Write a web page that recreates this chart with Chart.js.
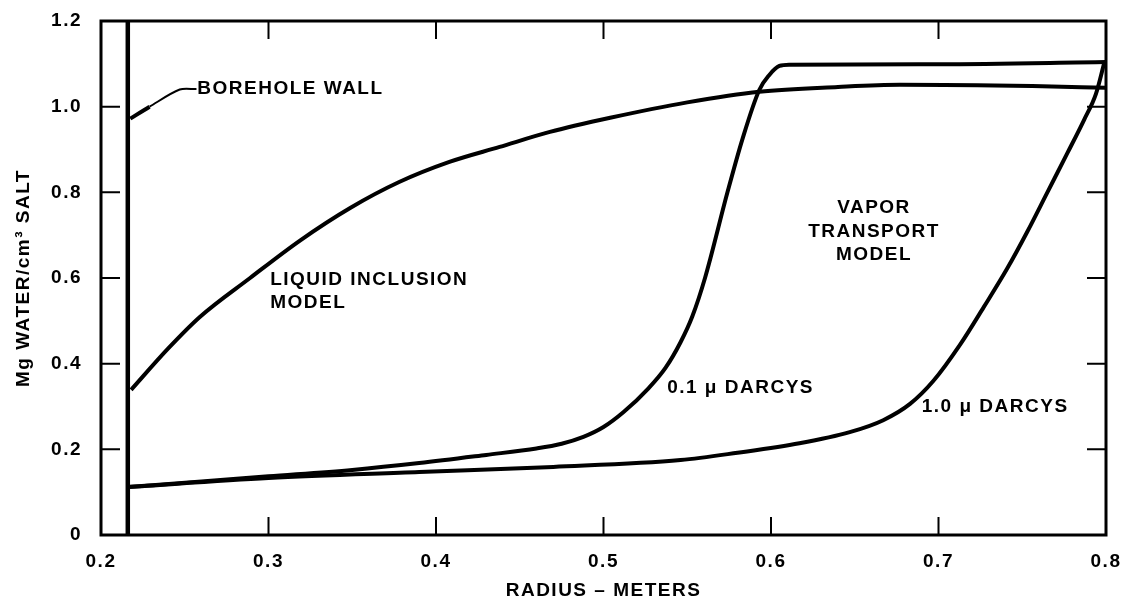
<!DOCTYPE html>
<html>
<head>
<meta charset="utf-8">
<script src="https://cdn.jsdelivr.net/npm/chart.js@4/dist/chart.umd.min.js"></script>
<style>
  html, body { margin: 0; padding: 0; background: #fff; }
  #wrap { width: 1125px; height: 602px; }
</style>
</head>
<body>
<div id="wrap"><canvas id="graphCanvas"></canvas></div>
<script>
    // values: [radius m, Mg water / cm3 salt]
    const liquidInclusion = [
        [0.218, 0.339], [0.24, 0.435], [0.259, 0.509], [0.289, 0.6],
        [0.319, 0.688], [0.349, 0.764], [0.378, 0.824], [0.408, 0.871],
        [0.438, 0.906], [0.468, 0.941], [0.504, 0.974], [0.55, 1.01],
        [0.593, 1.035], [0.64, 1.046], [0.677, 1.051], [0.756, 1.048], [0.8, 1.044]
    ];
    const darcy01 = [
        [0.216, 0.112], [0.26, 0.125], [0.3, 0.137], [0.35, 0.152],
        [0.39, 0.168], [0.43, 0.187], [0.46, 0.202], [0.475, 0.213],
        [0.488, 0.229], [0.5, 0.252], [0.512, 0.287], [0.527, 0.343],
        [0.537, 0.39], [0.546, 0.45], [0.553, 0.51], [0.5606, 0.6],
        [0.574, 0.8], [0.583, 0.925], [0.593, 1.039], [0.599, 1.074],
        [0.605, 1.095], [0.611, 1.098], [0.7, 1.099], [0.8, 1.104]
    ];
    const darcy10 = [
        [0.216, 0.112], [0.3, 0.133], [0.39, 0.147], [0.47, 0.159],
        [0.546, 0.175], [0.58, 0.192], [0.617, 0.214], [0.647, 0.24],
        [0.667, 0.268], [0.683, 0.306], [0.697, 0.36], [0.713, 0.445],
        [0.727, 0.532], [0.741, 0.622], [0.753, 0.708], [0.765, 0.8],
        [0.777, 0.892], [0.787, 0.97], [0.794, 1.03], [0.799, 1.103]
    ];
    const boreholeWall = [[0.216, 0], [0.216, 1.2]];
    const wallLeader = [[0.2175, 0.972], [0.229, 1.0], [0.247, 1.04], [0.257, 1.041]];

    const xTicks = [0.2, 0.3, 0.4, 0.5, 0.6, 0.7, 0.8];
    const xTickLabels = ['0.2', '0.3', '0.4', '0.5', '0.6', '0.7', '0.8'];
    const yTicks = [0, 0.2, 0.4, 0.6, 0.8, 1.0, 1.2];
    const yTickLabels = ['0', '0.2', '0.4', '0.6', '0.8', '1.0', '1.2'];

    const FONT = '"Liberation Sans", Arial, sans-serif';
    const SPACING = '1.5px';

    const toPts = arr => arr.map(p => ({x: p[0], y: p[1]}));

    // frame + inward ticks + curve labels
    const figurePlugin = {
        id: 'figure',
        beforeLayout(chart) { chart.ctx.letterSpacing = SPACING; },
        beforeDraw(chart) { chart.ctx.letterSpacing = SPACING; },
        afterDraw(chart) {
            const {ctx, chartArea: a, scales: {x, y}} = chart;
            ctx.save();
            ctx.strokeStyle = '#000';
            ctx.lineWidth = 3;
            ctx.strokeRect(a.left, a.top, a.right - a.left, a.bottom - a.top);

            ctx.lineWidth = 2;
            ctx.beginPath();
            xTicks.slice(1, -1).forEach(v => {
                const px = x.getPixelForValue(v);
                ctx.moveTo(px, a.bottom); ctx.lineTo(px, a.bottom - 18);
                ctx.moveTo(px, a.top); ctx.lineTo(px, a.top + 18);
            });
            yTicks.slice(1, -1).forEach(v => {
                const py = y.getPixelForValue(v);
                ctx.moveTo(a.left, py); ctx.lineTo(a.left + 19, py);
                ctx.moveTo(a.right, py); ctx.lineTo(a.right - 19, py);
            });
            ctx.stroke();

            ctx.fillStyle = '#000';
            ctx.font = 'bold 19px ' + FONT;
            ctx.letterSpacing = SPACING;
            ctx.textBaseline = 'middle';
            const text = (s, vx, vy, align) => {
                ctx.textAlign = align || 'left';
                ctx.fillText(s, x.getPixelForValue(vx), y.getPixelForValue(vy));
            };
            text('BOREHOLE WALL', 0.2575, 1.041);
            text('LIQUID INCLUSION', 0.301, 0.595);
            text('MODEL', 0.301, 0.542);
            text('VAPOR', 0.6615, 0.763, 'center');
            text('TRANSPORT', 0.6615, 0.707, 'center');
            text('MODEL', 0.6615, 0.654, 'center');
            text('0.1 \u03bc DARCYS', 0.538, 0.343);
            text('1.0 \u03bc DARCYS', 0.69, 0.299);
            ctx.restore();
        }
    };

    const line = (data, extra) => Object.assign({
        data: toPts(data),
        showLine: true,
        borderColor: '#000',
        borderWidth: 4,
        pointRadius: 0,
        cubicInterpolationMode: 'monotone',
        fill: false
    }, extra || {});

    new Chart(document.getElementById('graphCanvas'), {
        type: 'scatter',
        data: {
            datasets: [
                line(liquidInclusion, {label: 'Liquid inclusion model'}),
                line(darcy01, {label: '0.1 \u03bc darcys'}),
                line(darcy10, {label: '1.0 \u03bc darcys'}),
                line(boreholeWall, {label: 'Borehole wall', borderWidth: 4.5, cubicInterpolationMode: 'default', tension: 0}),
                line(wallLeader, {
                    label: 'leader', borderWidth: 2, cubicInterpolationMode: 'default', tension: 0.3,
                    segment: {borderWidth: c => c.p0DataIndex === 0 ? 4 : 2}
                })
            ]
        },
        options: {
            responsive: true,
            maintainAspectRatio: false,
            animation: false,
            events: [],
            layout: {
                padding: {left: 0, right: 19, top: 21, bottom: 0}
            },
            plugins: {
                legend: {display: false},
                tooltip: {enabled: false}
            },
            scales: {
                x: {
                    type: 'linear',
                    min: 0.2,
                    max: 0.8,
                    afterBuildTicks: s => { s.ticks = xTicks.map(v => ({value: v})); },
                    afterFit: s => { s.height = 67; s.paddingLeft = 0; s.paddingRight = 0; },
                    grid: {display: false, drawTicks: false},
                    border: {display: false},
                    ticks: {
                        color: '#000',
                        padding: 15,
                        maxRotation: 0,
                        font: {family: FONT, size: 19, weight: 'bold'},
                        callback: v => xTickLabels[xTicks.indexOf(Math.round(v * 10) / 10)]
                    },
                    title: {
                        display: true,
                        text: 'RADIUS \u2013 METERS',
                        color: '#000',
                        padding: {top: 0, bottom: 0},
                        font: {family: FONT, size: 19, weight: 'bold'}
                    }
                },
                y: {
                    min: 0,
                    max: 1.2,
                    afterBuildTicks: s => { s.ticks = yTicks.map(v => ({value: v})); },
                    afterFit: s => { s.width = 101; s.paddingTop = 0; s.paddingBottom = 0; },
                    grid: {display: false, drawTicks: false},
                    border: {display: false},
                    ticks: {
                        color: '#000',
                        padding: 19,
                        font: {family: FONT, size: 19, weight: 'bold'},
                        callback: v => yTickLabels[yTicks.indexOf(Math.round(v * 10) / 10)]
                    },
                    title: {
                        display: true,
                        text: 'Mg WATER/cm\u00b3 SALT',
                        color: '#000',
                        padding: {top: 12, bottom: 0},
                        font: {family: FONT, size: 19, weight: 'bold'}
                    }
                }
            }
        },
        plugins: [figurePlugin]
    });
</script>
</body>
</html>
